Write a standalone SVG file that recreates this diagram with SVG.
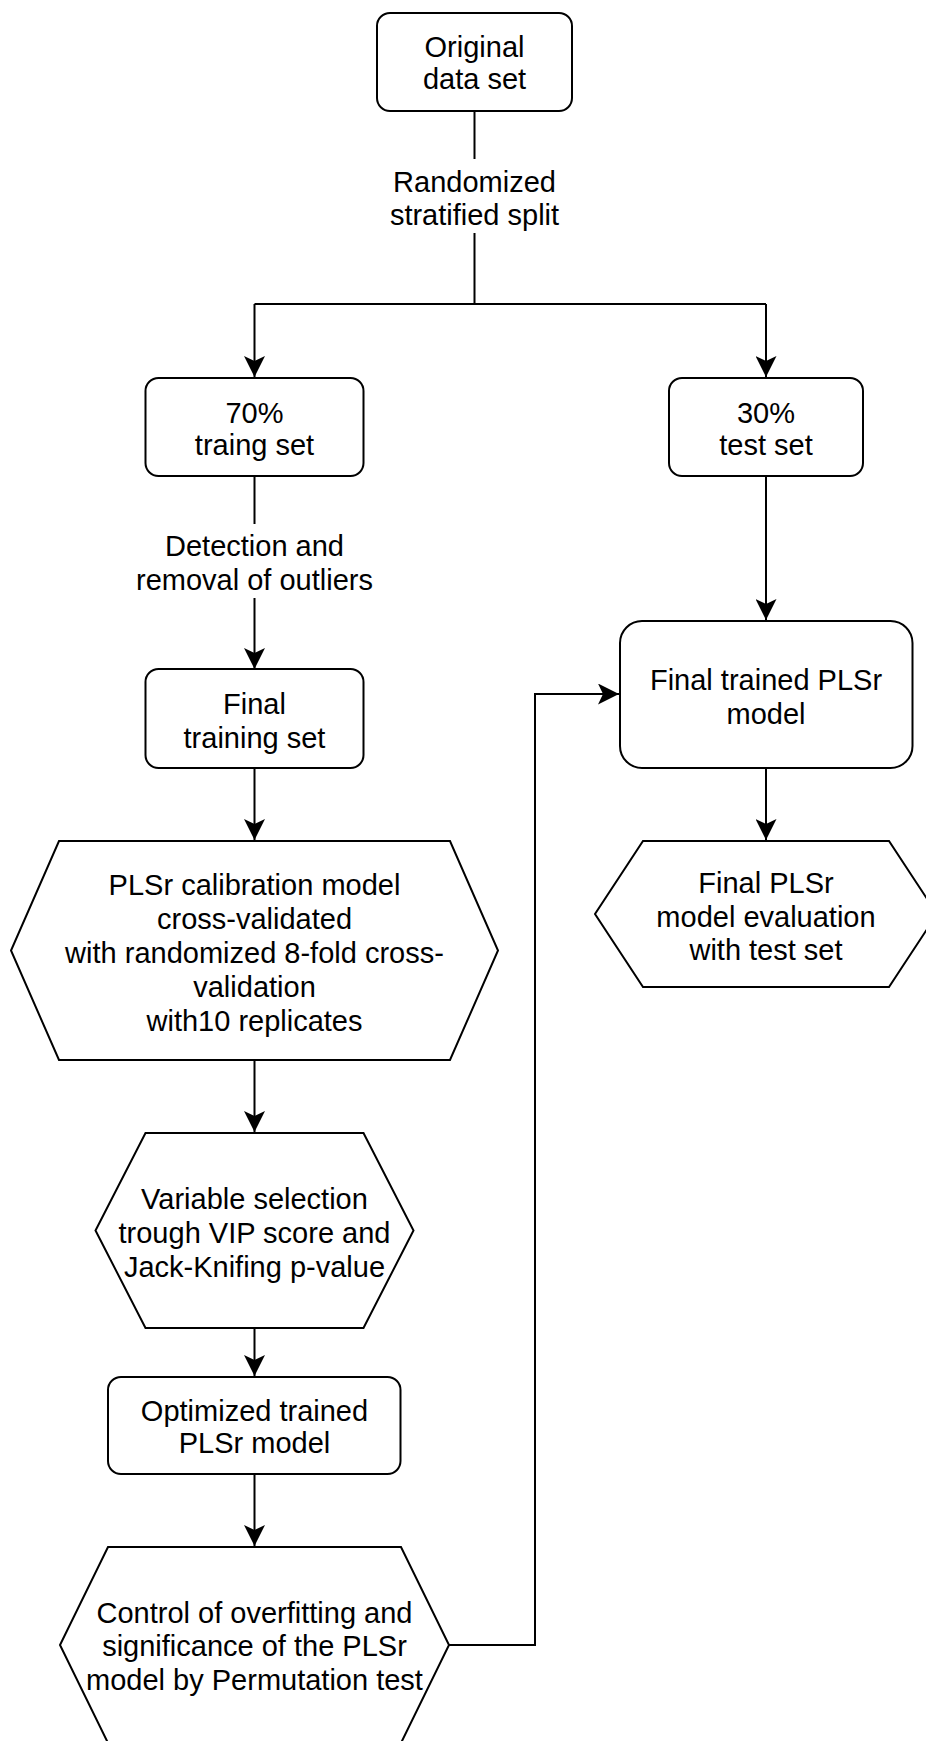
<svg xmlns="http://www.w3.org/2000/svg" width="926" height="1741" viewBox="0 0 926 1741">
<defs>
<style>
.box{fill:#fff;stroke:#000;stroke-width:2}
.edge{fill:none;stroke:#000;stroke-width:2}
text{font-family:"Liberation Sans",Arial,Helvetica,sans-serif;font-size:29px;fill:#000;text-anchor:middle}
</style>
<marker id="arr" markerUnits="userSpaceOnUse" viewBox="0 0 21 21" refX="21" refY="10.5" markerWidth="21" markerHeight="21" orient="auto">
<path d="M0,0 L21,10.5 L0,21 L5,10.5 Z" fill="#000"/>
</marker>
</defs>
<rect width="926" height="1741" fill="#fff"/>
<g id="connectors">
<path class="edge" d="M474.5,111 V159"/>
<path class="edge" d="M474.5,233 V304 M254.5,304 H766"/>
<path class="edge" d="M254.5,304 V377" marker-end="url(#arr)"/>
<path class="edge" d="M766,304 V377" marker-end="url(#arr)"/>
<path class="edge" d="M254.5,476 V524"/>
<path class="edge" d="M254.5,598 V669" marker-end="url(#arr)"/>
<path class="edge" d="M254.5,768 V840" marker-end="url(#arr)"/>
<path class="edge" d="M254.5,1060 V1132" marker-end="url(#arr)"/>
<path class="edge" d="M254.5,1328 V1376" marker-end="url(#arr)"/>
<path class="edge" d="M254.5,1474 V1546" marker-end="url(#arr)"/>
<path class="edge" d="M766,476 V620" marker-end="url(#arr)"/>
<path class="edge" d="M766,768 V840" marker-end="url(#arr)"/>
<path class="edge" d="M449,1645 H535 V694 H619" marker-end="url(#arr)"/>
<text id="label-split" x="474.5" y="192">Randomized<tspan x="474.5" y="225">stratified split</tspan></text>
<text id="label-outliers" x="254.5" y="556">Detection and<tspan x="254.5" y="590">removal of outliers</tspan></text>
</g>
<g id="original">
<rect class="box" x="377" y="13" width="195" height="98" rx="13"/>
<text x="474.5" y="57">Original<tspan x="474.5" y="89">data set</tspan></text>
</g>
<g id="train70">
<rect class="box" x="145.5" y="378" width="218" height="98" rx="13"/>
<text x="254.5" y="423">70%<tspan x="254.5" y="455">traing set</tspan></text>
</g>
<g id="test30">
<rect class="box" x="669" y="378" width="194" height="98" rx="13"/>
<text x="766" y="423">30%<tspan x="766" y="455">test set</tspan></text>
</g>
<g id="finaltraining">
<rect class="box" x="145.5" y="669" width="218" height="99" rx="13"/>
<text x="254.5" y="714">Final<tspan x="254.5" y="748">training set</tspan></text>
</g>
<g id="finaltrained">
<rect class="box" x="620" y="621" width="292.5" height="147" rx="22"/>
<text x="766" y="690">Final trained PLSr<tspan x="766" y="724">model</tspan></text>
</g>
<g id="calibration">
<polygon class="box" points="59,841 450,841 498,950.5 450,1060 59,1060 11,950.5"/>
<text x="254.5" y="895">PLSr calibration model<tspan x="254.5" y="929">cross-validated</tspan><tspan x="254.5" y="963">with randomized 8-fold cross-</tspan><tspan x="254.5" y="997">validation</tspan><tspan x="254.5" y="1031">with10 replicates</tspan></text>
</g>
<g id="evaluation">
<polygon class="box" points="643,841 889,841 937,914 889,987 643,987 595,914"/>
<text x="766" y="893">Final PLSr<tspan x="766" y="927">model evaluation</tspan><tspan x="766" y="960">with test set</tspan></text>
</g>
<g id="selection">
<polygon class="box" points="145.5,1133 363.5,1133 413.5,1230.5 363.5,1328 145.5,1328 95.5,1230.5"/>
<text x="254.5" y="1209">Variable selection<tspan x="254.5" y="1243">trough VIP score and</tspan><tspan x="254.5" y="1277">Jack-Knifing p-value</tspan></text>
</g>
<g id="optimized">
<rect class="box" x="108" y="1377" width="292.5" height="97" rx="13"/>
<text x="254.5" y="1421">Optimized trained<tspan x="254.5" y="1453">PLSr model</tspan></text>
</g>
<g id="permutation">
<polygon class="box" points="108,1547 401,1547 449,1645 401,1743 108,1743 60,1645"/>
<text x="254.5" y="1623">Control of overfitting and<tspan x="254.5" y="1656">significance of the PLSr</tspan><tspan x="254.5" y="1690">model by Permutation test</tspan></text>
</g>
</svg>
